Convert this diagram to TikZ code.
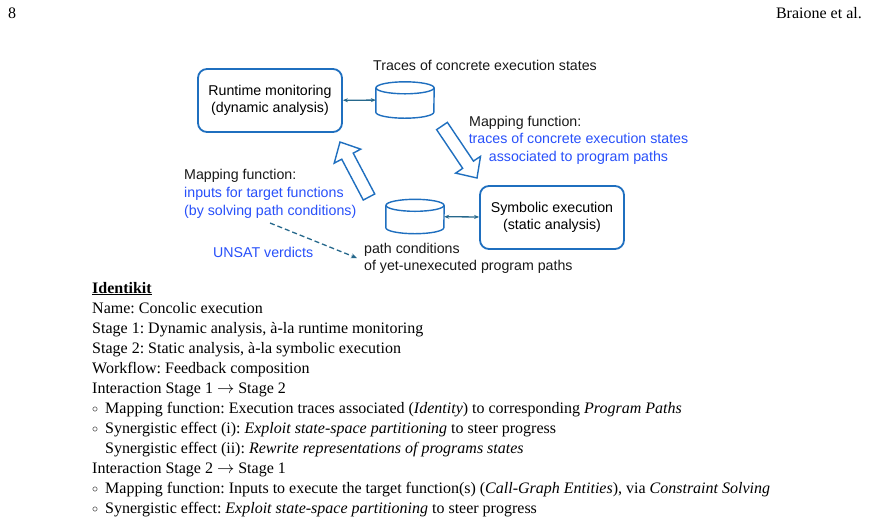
\documentclass[tikz,border=0pt]{standalone}
\usepackage{fontspec}
\setmainfont{Liberation Serif}
\newfontfamily\diagfont{Liberation Sans}
\usetikzlibrary{calc,arrows.meta}
\frenchspacing

\definecolor{boxblue}{RGB}{31,111,191}
\definecolor{txtblue}{RGB}{40,80,250}
\definecolor{linkteal}{RGB}{38,104,140}

\tikzset{
  stagebox/.style={draw=boxblue, line width=1.8pt, rounded corners=9pt,
    minimum width=144pt, minimum height=63pt, align=center,
    font=\diagfont\fontsize{14.2}{17}\selectfont},
  store/.style={minimum width=58pt, minimum height=36pt, inner sep=0pt},
  lbl/.style={anchor=base west, inner sep=0pt, text=black!90,
    font=\diagfont\fontsize{14.2}{17}\selectfont},
  bluelbl/.style={lbl, text=txtblue},
  link/.style={linkteal, line width=1.3pt},
  bodytext/.style={anchor=base west, inner sep=0pt, font=\fontsize{16}{20}\selectfont},
  bullet/.style={bodytext, font=\fontsize{12.5}{20}\selectfont}
}

% cylinder outline round a store node
\newcommand\drawstore[1]{%
  \draw[boxblue, line width=1.4pt]
    ($(#1.north west)+(0,6)$) -- ($(#1.south west)+(0,-6)$)
    arc[start angle=180, end angle=360, x radius=29pt, y radius=6pt]
    -- ($(#1.north east)+(0,6)$);
  \draw[boxblue, line width=1.4pt] ($(#1.north)+(0,6)$) ellipse [x radius=29pt, y radius=6pt];}

% fat hollow arrow from #1 (tail) to #2 (tip)
\newcommand\hollowarrow[2]{%
  \coordinate (hb) at ($(#2)!16pt!(#1)$);
  \draw[boxblue, line width=1.4pt, line join=miter, fill=white]
    ($(#1)!6.5pt!90:(#2)$) -- ($(hb)!6.5pt!90:(#2)$) -- ($(hb)!15pt!90:(#2)$)
    -- (#2) -- ($(hb)!15pt!-90:(#2)$) -- ($(hb)!6.5pt!-90:(#2)$)
    -- ($(#1)!6.5pt!-90:(#2)$) -- cycle;}

\begin{document}
\begin{tikzpicture}[x=1pt, y=-1pt]
   \useasboundingbox[fill=white] (0,0) rectangle (869,523);

   % page head
   \node[bodytext] (pageno) at (8,18) {8};
   \node[bodytext, anchor=base east] (authors) at (862,18) {Braione et al.};

   % the two stages and their stores
   \node[stagebox] (runtime) at (270,100.5) {Runtime monitoring\\(dynamic analysis)};
   \node[stagebox] (symbolic) at (552,217.5) {Symbolic execution\\(static analysis)};
   \node[store] (traces) at (405,100) {};
   \node[store, minimum height=34pt] (paths) at (415,216.5) {};
   \drawstore{traces}
   \drawstore{paths}

   \draw[link, {Stealth[length=5pt,width=4pt]}-{Stealth[length=5pt,width=4pt]}] (runtime) -- (traces);
   \draw[link, {Stealth[length=5pt,width=4pt]}-{Stealth[length=5pt,width=4pt]}] (paths) -- (symbolic);

   % mapping arrows
   \coordinate (tracesout) at (442,126);
   \coordinate (symin) at (477,178);
   \coordinate (pathsout) at (369,197);
   \coordinate (runin) at (340,142);
   \hollowarrow{tracesout}{symin}
   \hollowarrow{pathsout}{runin}

   % labels
   \node[lbl] (traceslbl) at (373,70) {Traces of concrete execution states};
   \node[lbl] (mapr) at (469,126) {Mapping function:};
   \node[bluelbl, anchor=base] (mapra) at (578.5,143) {traces of concrete execution states};
   \node[bluelbl, anchor=base] (maprb) at (578.5,161) {associated to program paths};
   \node[lbl] (mapl) at (184,179) {Mapping function:};
   \node[bluelbl] (mapla) at (184,197) {inputs for target functions};
   \node[bluelbl] (maplb) at (184,215) {(by solving path conditions)};
   \node[bluelbl] (unsat) at (213,257) {UNSAT verdicts};
   \node[lbl] (pathslbl) at (364,253) {path conditions};
   \node[lbl] (pathslblb) at (364,270) {of yet-unexecuted program paths};

   \coordinate (unsatfrom) at (270,223);
   \coordinate (unsatto) at (357,258);
   \draw[link, dash pattern=on 5pt off 3pt, -{Stealth[length=6pt,width=5pt]}] (unsatfrom) -- (unsatto);

   % identikit
   \node[bodytext] (l0) at ($(92,293)$) {\underline{\textbf{Identikit}}};
   \node[bodytext] (l1) at ($(92,313)+0*(0,20)$) {Name: Concolic execution};
   \node[bodytext] (l2) at ($(92,313)+1*(0,20)$) {Stage 1: Dynamic analysis, à-la runtime monitoring};
   \node[bodytext] (l3) at ($(92,313)+2*(0,20)$) {Stage 2: Static analysis, à-la symbolic execution};
   \node[bodytext] (l4) at ($(92,313)+3*(0,20)$) {Workflow: Feedback composition};
   \node[bodytext] (l5) at ($(92,313)+4*(0,20)$) {Interaction Stage 1 $\rightarrow$ Stage 2};
   \node[bullet] (b6) at ($(92,312)+5*(0,20)$) {$\circ$};
   \node[bodytext] (l6) at ($(105,313)+5*(0,20)$) {Mapping function: Execution traces associated (\textit{Identity}) to corresponding \textit{Program Paths}};
   \node[bullet] (b7) at ($(92,312)+6*(0,20)$) {$\circ$};
   \node[bodytext] (l7) at ($(105,313)+6*(0,20)$) {Synergistic effect (i): \textit{Exploit state-space partitioning} to steer progress};
   \node[bodytext] (l8) at ($(105,313)+7*(0,20)$) {Synergistic effect (ii): \textit{Rewrite representations of programs states}};
   \node[bodytext] (l9) at ($(92,313)+8*(0,20)$) {Interaction Stage 2 $\rightarrow$ Stage 1};
   \node[bullet] (b10) at ($(92,312)+9*(0,20)$) {$\circ$};
   \node[bodytext] (l10) at ($(105,313)+9*(0,20)$) {Mapping function: Inputs to execute the target function(s) (\textit{Call-Graph Entities}), via \textit{Constraint Solving}};
   \node[bullet] (b11) at ($(92,312)+10*(0,20)$) {$\circ$};
   \node[bodytext] (l11) at ($(105,313)+10*(0,20)$) {Synergistic effect: \textit{Exploit state-space partitioning} to steer progress};
\end{tikzpicture}
\end{document}
